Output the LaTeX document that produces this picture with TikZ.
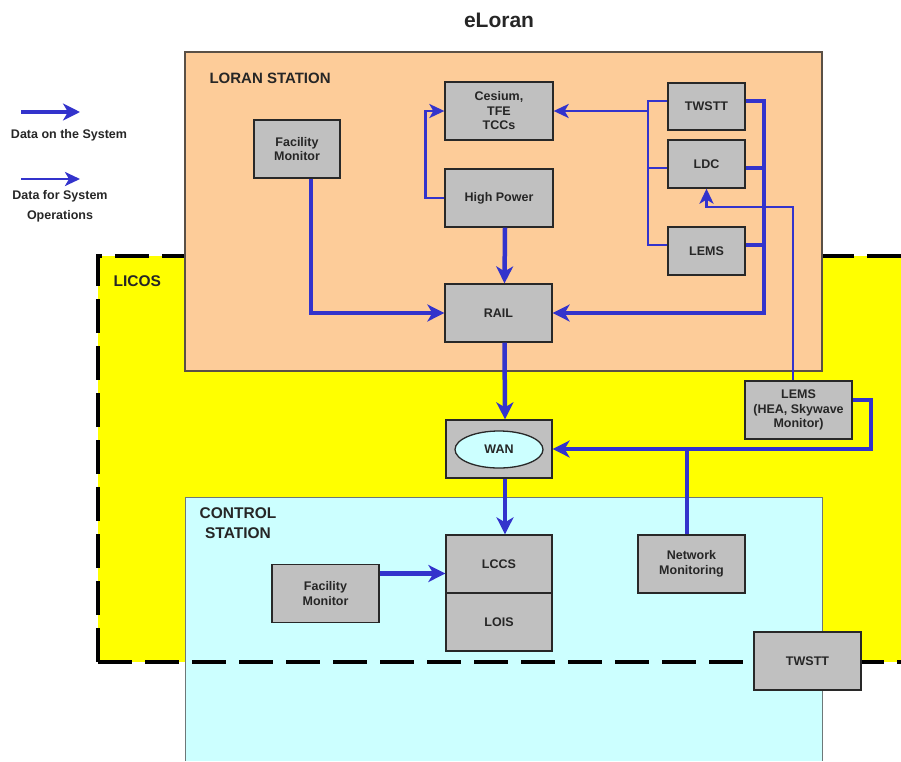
\documentclass[tikz,border=0pt]{standalone}
\usepackage{fontspec}
\setmainfont{Liberation Sans}
\usetikzlibrary{arrows.meta,shapes.geometric}
\definecolor{peach}{RGB}{253,204,153}
\definecolor{licosyellow}{RGB}{255,255,0}
\definecolor{ctrlcyan}{RGB}{204,255,255}
\definecolor{boxgray}{RGB}{192,192,192}
\definecolor{boxedge}{RGB}{40,40,40}
\definecolor{stationedge}{RGB}{90,80,70}
\definecolor{ctrledge}{RGB}{110,120,120}
\definecolor{flowblue}{RGB}{51,51,204}
\begin{document}
\begin{tikzpicture}[x=1pt,y=-1pt,
  unit/.style={draw=boxedge, fill=boxgray, line width=1.3pt, align=center,
    inner sep=0pt, text=black!85, font=\bfseries\fontsize{12.5}{14.5}\selectfont},
  sz/.style 2 args={minimum width=#1pt, minimum height=#2pt},
  heading/.style={text=black!85, font=\bfseries\fontsize{15.5}{19.5}\selectfont},
  legendtext/.style={text=black!85, align=center, font=\bfseries\fontsize{12.5}{20}\selectfont},
  databus/.style={draw=flowblue, line width=4.5pt},
  data/.style={databus, -{Stealth[length=17pt,width=17pt,inset=5pt]}},
  ops/.style={draw=flowblue, line width=2.7pt},
  opsarrow/.style={ops, -{Stealth[length=15pt,width=14pt,inset=4pt]}},
  licosdash/.style={draw=black, line width=4pt, dash pattern=on 34pt off 13pt}
]
\useasboundingbox (0,0) rectangle (901,761);

% LICOS area (yellow, dashed outline)
\fill[licosyellow] (98,256) rectangle (901,662);
\draw[licosdash] (901,256) -- (98,256) -- (98,662);

% Loran station area
\draw[draw=stationedge, line width=1.2pt, fill=peach] (185,52) rectangle (822,371);

% Control station area
\fill[ctrlcyan] (185,497) rectangle (822,761);
\draw[draw=ctrledge, line width=1pt] (185,761) -- (185,497) -- (822,497) -- (822,761);
\draw[licosdash] (98,662) -- (901,662);

% Titles and area labels
\node[text=black!85, font=\bfseries\fontsize{21}{23}\selectfont] (title) at (499,20) {eLoran};
\node[heading, anchor=west, font=\bfseries\fontsize{15}{18}\selectfont] (loranlbl) at (206,78) {LORAN STATION};
\node[heading, anchor=west] (licoslbl) at (110,281) {LICOS};
\node[heading, align=center] (ctrllbl) at (238,523) {CONTROL\\STATION};

% Legend
\coordinate (legA1) at (21,112);
\coordinate (legA2) at (80,112);
\draw[data] (legA1) -- (legA2);
\node[legendtext] (legA) at (69,135) {Data on the System};
\coordinate (legB1) at (21,179);
\coordinate (legB2) at (80,179);
\draw[opsarrow] (legB1) -- (legB2);
\node[legendtext] (legB) at (60,206) {Data for System\\Operations};

% Loran station units
\node[unit, sz={86}{58}] (fm1) at (297,149) {Facility\\Monitor};
\node[unit, sz={108}{58}] (ces) at (499,111) {Cesium,\\TFE\\TCCs};
\node[unit, sz={108}{58}] (hp) at (499,198) {High Power};
\node[unit, sz={77}{47}] (tw1) at (706.5,106.5) {TWSTT};
\node[unit, sz={77}{48}] (ldc) at (706.5,164) {LDC};
\node[unit, sz={77}{48}] (lems1) at (706.5,251) {LEMS};
\node[unit, sz={107}{58}] (rail) at (498.5,313) {RAIL};

% LICOS units
\node[unit, sz={107}{58}] (lems2) at (798.5,410) {LEMS\\(HEA, Skywave\\Monitor)};
\node[unit, sz={106}{58}] (wanbox) at (499,449) {};
\node[draw=boxedge, fill=ctrlcyan, ellipse, line width=1.3pt, minimum width=88pt,
  minimum height=37pt, inner sep=0pt, text=black!85,
  font=\bfseries\fontsize{12.5}{14.5}\selectfont] (wan) at (499,449.5) {WAN};

% Control station units
\node[unit, sz={106}{58}] (lccs) at (499,564) {LCCS};
\node[unit, sz={106}{58}] (lois) at (499,622) {LOIS};
\node[unit, sz={107}{58}] (fm2) at (325.5,593.5) {Facility\\Monitor};
\node[unit, sz={107}{58}] (netmon) at (691.5,564) {Network\\Monitoring};
\node[unit, sz={107}{58}] (tw2) at (807.5,661) {TWSTT};

% Connection points
\coordinate (busR) at (764,313);
\coordinate (tw1E) at ([yshift=5.5pt]tw1.east);
\coordinate (ldcE) at ([yshift=-4pt]ldc.east);
\coordinate (lemsE) at ([yshift=6pt]lems1.east);
\coordinate (tw1W) at ([yshift=5.5pt]tw1.west);
\coordinate (ldcW) at ([yshift=-4pt]ldc.west);
\coordinate (lemsW) at ([yshift=6pt]lems1.west);
\coordinate (busL) at (648,0);
\coordinate (fm1S) at ([xshift=14pt]fm1.south);
\coordinate (hpS) at ([xshift=6pt]hp.south);
\coordinate (railN) at ([xshift=6pt]rail.north);
\coordinate (railS) at ([xshift=6pt]rail.south);
\coordinate (wanN) at ([xshift=6pt]wanbox.north);
\coordinate (wanS) at ([xshift=6pt]wanbox.south);
\coordinate (lccsN) at ([xshift=6pt]lccs.north);
\coordinate (fm2E) at ([yshift=20pt]fm2.east);
\coordinate (lems2E) at ([yshift=10pt]lems2.east);
\coordinate (loopR) at (871,449);
\coordinate (nmTop) at ([xshift=-4.5pt]netmon.north);
\coordinate (lems2N) at ([xshift=-5.5pt]lems2.north);
\coordinate (ldcH) at (706.5,207);

% Data on the system
\draw[data] (fm1S) |- (rail.west);
\draw[data] (hpS) -- (railN);
\draw[data] (tw1E) -| (busR) -- (rail.east);
\draw[databus] (ldcE) -- (ldcE -| busR);
\draw[databus] (lemsE) -- (lemsE -| busR);
\draw[data] (railS) -- (wanN);
\draw[data] (wanS) -- (lccsN);
\draw[data] (fm2E) -- (fm2E -| lccs.west);
\draw[data] (lems2E) -| (loopR) -- (wanbox.east);
\draw[databus] (nmTop) -- (nmTop |- wanbox.east);

% Data for system operations
\draw[opsarrow] (hp.west) -- ++(-19,0) |- (ces.west);
\draw[ops] (tw1W) -- (tw1W -| busL) |- (lemsW);
\draw[ops] (ldcW) -- (ldcW -| busL);
\draw[opsarrow] (ces.east -| busL) -- (ces.east);
\draw[opsarrow] (lems2N) |- (ldcH) -- (ldc.south);
\end{tikzpicture}
\end{document}
